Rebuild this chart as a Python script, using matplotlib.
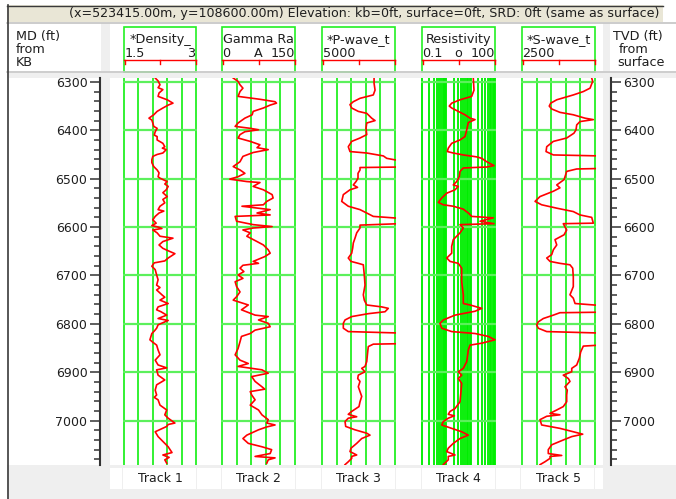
import numpy as np
import matplotlib
matplotlib.use("Agg")
import matplotlib.pyplot as plt
from matplotlib.patches import Rectangle
from matplotlib.ticker import MultipleLocator, LogLocator, NullFormatter

# ---------------- data ----------------
TOP_DEPTH, BOTTOM_DEPTH = 6292, 7091.7

density_depth = [6292, 6298, 6306, 6312, 6316, 6323, 6330, 6337, 6344, 6348, 6354, 6361, 6368, 6375, 6379,
                 6385, 6392, 6396, 6403, 6410, 6413, 6420, 6427, 6434, 6437, 6440, 6447, 6450, 6454, 6461,
                 6467, 6475, 6482, 6488, 6496, 6499, 6506, 6511, 6516, 6523, 6529, 6537, 6543, 6550, 6557,
                 6564, 6567, 6571, 6578, 6585, 6592, 6597, 6600, 6603, 6606, 6612, 6619, 6623, 6630, 6637,
                 6644, 6649, 6655, 6664, 6670, 6674, 6681, 6688, 6699, 6709, 6720, 6725, 6730, 6740, 6745,
                 6751, 6758, 6765, 6771, 6775, 6782, 6789, 6793, 6796, 6802, 6809, 6815, 6820, 6833, 6838,
                 6844, 6854, 6864, 6875, 6885, 6891, 6895, 6906, 6916, 6926, 6937, 6947, 6952, 6957, 6968,
                 6978, 6988, 6995, 7005, 7008, 7012, 7023, 7033, 7043, 7054, 7060, 7066, 7071, 7076, 7081, 7088]
density = [2.15, 2.21, 2.25, 2.21, 2.31, 2.23, 2.21, 2.40, 2.52, 2.42, 2.31, 2.19, 2.12, 2.02, 2.08,
           2.10, 2.12, 2.19, 2.15, 2.13, 2.19, 2.19, 2.31, 2.35, 2.30, 2.38, 2.31, 2.19, 2.10, 2.08,
           2.08, 2.12, 2.19, 2.23, 2.21, 2.25, 2.40, 2.35, 2.42, 2.38, 2.31, 2.40, 2.31, 2.35, 2.25,
           2.21, 2.33, 2.23, 2.15, 2.10, 2.17, 2.08, 2.21, 2.29, 2.10, 2.19, 2.25, 2.52, 2.31, 2.23,
           2.31, 2.42, 2.56, 2.42, 2.35, 2.13, 2.08, 2.15, 2.18, 2.21, 2.18, 2.25, 2.18, 2.29, 2.35,
           2.25, 2.42, 2.21, 2.18, 2.27, 2.39, 2.21, 2.42, 2.35, 2.21, 2.18, 2.13, 2.08, 2.04, 2.10,
           2.18, 2.21, 2.25, 2.15, 2.21, 2.39, 2.18, 2.21, 2.35, 2.18, 2.15, 2.18, 2.13, 2.21, 2.25,
           2.39, 2.35, 2.42, 2.56, 2.42, 2.39, 2.15, 2.21, 2.31, 2.42, 2.46, 2.50, 2.31, 2.44, 2.35, 2.39]

gamma_depth = [6292, 6299, 6306, 6313, 6320, 6330, 6336, 6341, 6344, 6348, 6354, 6361, 6368, 6375, 6385,
               6392, 6396, 6399, 6403, 6409, 6416, 6423, 6430, 6436, 6440, 6446, 6454, 6465, 6475, 6482,
               6489, 6496, 6501, 6506, 6508, 6516, 6523, 6533, 6540, 6547, 6554, 6557, 6564, 6571, 6575,
               6578, 6588, 6595, 6599, 6602, 6606, 6612, 6619, 6630, 6637, 6647, 6654, 6661, 6671, 6675,
               6679, 6685, 6692, 6699, 6706, 6713, 6723, 6734, 6744, 6751, 6761, 6771, 6782, 6785, 6792,
               6799, 6806, 6813, 6820, 6826, 6837, 6851, 6864, 6875, 6882, 6888, 6895, 6902, 6909, 6919,
               6930, 6935, 6940, 6947, 6957, 6968, 6978, 6988, 6998, 7005, 7009, 7013, 7019, 7030, 7037,
               7047, 7054, 7060, 7068, 7074, 7077, 7081, 7088]
gamma = [23, 33, 37, 43, 37, 33, 78, 109, 112, 99, 85, 64, 62, 47, 33,
         27, 58, 75, 47, 37, 33, 58, 78, 72, 95, 64, 43, 37, 23, 37,
         47, 33, 16, 51, 78, 64, 85, 103, 105, 92, 85, 41, 99, 72, 99,
         27, 30, 64, 103, 64, 43, 58, 51, 72, 85, 95, 99, 88, 64, 75,
         43, 37, 45, 33, 43, 27, 30, 37, 30, 23, 54, 40, 68, 95, 75,
         95, 99, 68, 58, 40, 37, 33, 27, 37, 54, 33, 82, 95, 61, 68,
         82, 88, 58, 61, 68, 58, 75, 82, 95, 92, 109, 92, 75, 51, 43,
         54, 82, 102, 99, 68, 109, 95, 92]

pwave_depth = [6292, 6303, 6317, 6327, 6334, 6341, 6347, 6354, 6361, 6365, 6375, 6380, 6385, 6396, 6409,
               6416, 6423, 6434, 6444, 6447, 6453, 6458, 6463, 6476, 6477, 6482, 6489, 6499, 6506, 6513,
               6518, 6523, 6533, 6547, 6557, 6564, 6571, 6578, 6582, 6593, 6596, 6602, 6612, 6623, 6633,
               6643, 6654, 6664, 6671, 6675, 6678, 6699, 6720, 6740, 6751, 6761, 6765, 6768, 6775, 6779,
               6785, 6792, 6799, 6809, 6816, 6819, 6841, 6842, 6847, 6858, 6878, 6888, 6892, 6899, 6906,
               6913, 6919, 6930, 6940, 6950, 6961, 6971, 6981, 6987, 6992, 6995, 7002, 7012, 7019, 7026,
               7030, 7037, 7047, 7057, 7064, 7071, 7074, 7078, 7085, 7091]
pwave = [15700, 15700, 15900, 15540, 12810, 11430, 10750, 11100, 12460, 14190, 15210, 15900, 14190, 14040, 14190,
         12810, 11100, 10400, 10750, 14190, 17600, 18300, 21000, 21000, 12810, 12810, 12400, 12400, 11990, 11430,
         12300, 10750, 9380, 9050, 10400, 12810, 14190, 15540, 21000, 21000, 12810, 12810, 12130, 11780, 11430,
         11310, 11100, 10400, 10960, 12460, 13490, 13690, 13840, 13490, 13690, 14190, 17270, 18620, 17950, 14510,
         11100, 9730, 9380, 9380, 10400, 21000, 21000, 15540, 14510, 14390, 14190, 13840, 13160, 13840, 12460,
         12340, 12810, 12460, 12810, 13160, 12810, 12600, 11100, 10400, 12130, 10400, 9730, 9870, 11780, 14190,
         14860, 13160, 12130, 10960, 10750, 12130, 11100, 11100, 10400, 9730]

resist_depth = [6292, 6317, 6330, 6337, 6344, 6350, 6354, 6361, 6368, 6375, 6378, 6384, 6399, 6413, 6420,
                6427, 6437, 6444, 6447, 6451, 6455, 6458, 6465, 6473, 6476, 6477, 6478, 6485, 6496, 6506,
                6513, 6516, 6523, 6530, 6540, 6549, 6554, 6557, 6563, 6571, 6578, 6581, 6588, 6593, 6595,
                6602, 6612, 6626, 6640, 6654, 6664, 6671, 6675, 6685, 6713, 6740, 6758, 6761, 6768, 6774,
                6782, 6792, 6799, 6809, 6816, 6820, 6826, 6833, 6840, 6844, 6854, 6878, 6892, 6899, 6906,
                6913, 6923, 6940, 6961, 6975, 6981, 6987, 6990, 6995, 7002, 7009, 7016, 7023, 7030, 7037,
                7047, 7057, 7064, 7071, 7074, 7081, 7091]
resistivity = [12.8, 13.7, 11.0, 3.65, 1.66, 1.32, 1.66, 3.10, 5.85, 9.4, 15.1, 8.0, 6.9, 5.85, 3.65,
               1.66, 1.20, 1.10, 1.93, 4.98, 17.7, 28.4, 45.6, 91, 45.6, 12.8, 4.98, 3.65, 3.41, 2.67,
               1.93, 3.10, 2.27, 1.04, 0.645, 0.468, 0.75, 1.93, 4.98, 8.0, 11.0, 85, 24.2, 91, 3.65,
               4.98, 3.65, 1.93, 1.66, 1.66, 1.04, 1.42, 3.10, 4.28, 4.28, 4.98, 4.98, 9.4, 28.4, 15.1,
               2.27, 0.75, 0.55, 0.645, 1.66, 15.1, 53, 100, 28.4, 9.4, 8.0, 6.9, 4.98, 3.10, 4.28,
               3.10, 4.28, 4.0, 3.65, 2.27, 1.42, 1.20, 2.13, 1.20, 0.75, 0.645, 1.66, 4.28, 8.0, 3.65,
               1.93, 1.20, 1.04, 2.27, 1.20, 1.20, 0.75]

swave_depth = [6292, 6299, 6313, 6320, 6327, 6337, 6344, 6350, 6356, 6363, 6368, 6375, 6378, 6382, 6389,
               6399, 6406, 6416, 6423, 6434, 6444, 6451, 6453, 6479, 6480, 6485, 6496, 6502, 6513, 6519,
               6526, 6537, 6547, 6554, 6561, 6568, 6575, 6580, 6592, 6593, 6606, 6616, 6626, 6637, 6647,
               6657, 6664, 6671, 6675, 6678, 6685, 6703, 6723, 6740, 6747, 6758, 6762, 6776, 6777, 6782,
               6789, 6796, 6802, 6809, 6816, 6819, 6844, 6846, 6858, 6871, 6885, 6892, 6899, 6906, 6913,
               6919, 6930, 6937, 6947, 6961, 6971, 6978, 6985, 6988, 6991, 6998, 7009, 7016, 7023, 7028,
               7033, 7040, 7050, 7060, 7068, 7072, 7074, 7078, 7085, 7091]
swave = [9660, 9760, 9490, 8800, 7770, 6070, 5450, 5300, 5550, 6400, 7770, 8970, 9830, 8460, 8120,
         8050, 7840, 7090, 5720, 5040, 4970, 5720, 10500, 10500, 8120, 7090, 6920, 6820, 6070, 6400,
         5720, 4350, 3840, 4520, 6070, 7770, 8460, 9660, 9830, 6740, 7090, 6820, 5890, 6070, 5720,
         5550, 5040, 5380, 6400, 7430, 7710, 7770, 7770, 7430, 7770, 7950, 10500, 10500, 6400, 5720,
         4690, 4170, 4010, 4170, 5040, 10500, 10500, 8800, 8530, 8390, 8120, 7610, 7610, 6740, 7260,
         7430, 6920, 7150, 7090, 7090, 6740, 6070, 5380, 6400, 5040, 4350, 4520, 6400, 7770, 8740,
         7610, 6740, 5550, 5200, 5200, 6580, 5380, 5380, 4860, 4350]

track_names = ["Track 1", "Track 2", "Track 3", "Track 4", "Track 5"]
curve_titles = ["*Density_", "Gamma Ra", "*P-wave_t", "Resistivity", "*S-wave_t"]
scale_left = ["1.5", "0", "5000", "0.1", "2500"]
scale_mid = ["", "A", "", "o", ""]
scale_right = ["3", "150", "", "100", ""]
track_ranges = [(1.5, 3.0), (0, 150), (5000, 20000), (0.1, 100), (2500, 10000)]
track_log = [False, False, False, True, False]
depth_ticks = list(range(6300, 7001, 100))
title_text = "(x=523415.00m, y=108600.00m) Elevation: kb=0ft, surface=0ft, SRD: 0ft (same as surface)"

# ---------------- layout ----------------
W, H = 676, 499
fig = plt.figure(figsize=(W / 100, H / 100), dpi=100)
fig.patch.set_facecolor("white")
plt.rcParams["font.family"] = ["DejaVu Sans"]

def rect(x0, y0, x1, y1):
    return [x0 / W, 1 - y1 / H, (x1 - x0) / W, (y1 - y0) / H]

GREEN = "#22f022"
HGREEN = "#5cf05c"
RED = "#ff0000"
GRAY = "#efefef"
TXT = "#1e1e1e"
HFS = 9.2

bg = fig.add_axes([0, 0, 1, 1])
bg.set_xlim(0, W)
bg.set_ylim(H, 0)
bg.axis("off")

# title bar
bg.add_patch(Rectangle((7, 5), 656, 16.5, facecolor="#e9e6d6", edgecolor="none"))
bg.plot([7, 663], [5.5, 5.5], color="#3a3a3a", lw=1.0)
bg.plot([7, 676], [22.5, 22.5], color="#c4c4c4", lw=1.2)
bg.text(364, 13.5, title_text, fontsize=9.1, color=TXT, ha="center", va="center")

# gray separators
bg.add_patch(Rectangle((101, 23), 9, 442, facecolor=GRAY, edgecolor="none"))
bg.add_patch(Rectangle((603, 23), 7, 442, facecolor=GRAY, edgecolor="none"))
bg.add_patch(Rectangle((7, 71), 669, 7, facecolor=GRAY, edgecolor="none"))
bg.plot([7, 676], [71.5, 71.5], color="#c8c8c8", lw=1.2)
bg.add_patch(Rectangle((7, 465), 669, 34, facecolor=GRAY, edgecolor="none"))
bg.plot([7.5, 7.5], [5, 499], color="#3a3a3a", lw=1.2)

# bottom label cells
cells = [(110, 122), (123, 196), (197, 221), (222, 295), (296, 321), (322, 395),
         (396, 421), (422, 495), (496, 520), (521, 594), (595, 603)]
for a, b in cells:
    bg.add_patch(Rectangle((a, 468), b - a, 21, facecolor="white", edgecolor="none"))

# MD / TVD headers
for i, s in enumerate(["MD (ft)", "from", "KB"]):
    bg.text(16, 36 + 13 * i, s, fontsize=HFS, color=TXT, ha="left", va="center")
for i, (s, x) in enumerate([("TVD (ft)", 613), ("from", 619), ("surface", 617)]):
    bg.text(x, 36 + 13 * i, s, fontsize=HFS, color=TXT, ha="left", va="center")

track_x = [(124, 196), (222, 295), (322, 395), (422, 495), (522, 595)]
PLOT_TOP, PLOT_BOT = 78, 465

curves = [(density_depth, density), (gamma_depth, gamma), (pwave_depth, pwave),
          (resist_depth, resistivity), (swave_depth, swave)]

for k, ((x0, x1), (lo, hi), islog, (dep, val)) in enumerate(zip(track_x, track_ranges, track_log, curves)):
    pad = 1.0
    ax = fig.add_axes(rect(x0 - pad, PLOT_TOP, x1 + pad, PLOT_BOT))
    if islog:
        ax.set_xscale("log")
        l0, l1 = np.log10(lo), np.log10(hi)
        d = (l1 - l0) / (x1 - x0) * pad
        ax.set_xlim(10 ** (l0 - d), 10 ** (l1 + d))
        ax.xaxis.set_major_locator(LogLocator(base=10, numticks=10))
        ax.xaxis.set_minor_locator(LogLocator(base=10, subs=np.arange(2, 10), numticks=20))
        ax.xaxis.set_minor_formatter(NullFormatter())
        ax.grid(axis="x", which="both", color="#00ee00", lw=1.35)
    else:
        d = (hi - lo) / (x1 - x0) * pad
        ax.set_xlim(lo - d, hi + d)
        ax.set_xticks(np.linspace(lo, hi, 6))
        ax.grid(axis="x", color=GREEN, lw=1.3)
    ax.set_ylim(BOTTOM_DEPTH, TOP_DEPTH)
    ax.set_yticks(depth_ticks)
    ax.grid(axis="y", color=HGREEN, lw=1.6)
    ax.set_axisbelow(True)
    ax.plot(val, dep, color=RED, lw=1.2)
    ax.tick_params(which="both", length=0, labelbottom=False, labelleft=False)
    for s in ax.spines.values():
        s.set_visible(False)
    ax.set_facecolor("white")

    # header box
    bg.add_patch(Rectangle((x0, 26.5), x1 - x0, 45, facecolor="none", edgecolor=GREEN, lw=1.2))
    xm = (x0 + x1) / 2
    bg.plot([x0, x1], [59.5, 59.5], color=RED, lw=1.0)
    for xt in (x0 + 0.5, xm, x1 - 0.5):
        bg.plot([xt, xt], [59.5, 64], color=RED, lw=1.0)
    bg.text(xm, 39.5, curve_titles[k], fontsize=HFS, color=TXT, ha="center", va="center")
    bg.text(x0 + 0.5, 53, scale_left[k], fontsize=HFS, color=TXT, ha="left", va="center")
    if scale_mid[k]:
        bg.text(xm, 53, scale_mid[k], fontsize=HFS, color=TXT, ha="center", va="center")
    if scale_right[k]:
        bg.text(x1 - 0.5, 53, scale_right[k], fontsize=HFS, color=TXT, ha="right", va="center")
    bg.text(xm, 478.5, track_names[k], fontsize=9, color=TXT, ha="center", va="center")

# depth axes
AX_COL = "#333333"
for side in ("left", "right"):
    if side == "left":
        dax = fig.add_axes(rect(100, PLOT_TOP, 101, PLOT_BOT))
    else:
        dax = fig.add_axes(rect(610, PLOT_TOP, 611, PLOT_BOT))
    dax.set_ylim(BOTTOM_DEPTH, TOP_DEPTH)
    dax.set_xticks([])
    for s in dax.spines.values():
        s.set_visible(False)
    dax.spines[side].set_visible(True)
    dax.spines[side].set_color(AX_COL)
    dax.spines[side].set_linewidth(1.5)
    dax.yaxis.set_major_locator(MultipleLocator(100))
    dax.yaxis.set_minor_locator(MultipleLocator(20))
    if side == "right":
        dax.yaxis.tick_right()
    dax.tick_params(axis="y", which="major", length=7.5, width=1.1, direction="out",
                    colors=AX_COL, labelsize=9, pad=1.5, labelcolor=TXT)
    dax.tick_params(axis="y", which="minor", length=4, width=1.1, direction="out", colors=AX_COL)
    dax.set_yticks(depth_ticks)
    dax.set_facecolor("none")

fig.savefig("out.png", dpi=100, facecolor="white")
